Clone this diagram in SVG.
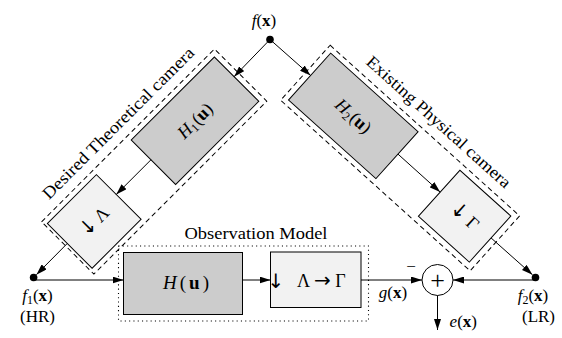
<svg xmlns="http://www.w3.org/2000/svg" width="562" height="338" viewBox="0 0 562 338">
<defs>
<style>
text{font-family:"Liberation Serif","DejaVu Serif",serif;font-size:17px;fill:#000}
.m{font-size:18px}
.it{font-style:italic}
.bf{font-weight:bold}
.sub{font-size:12px}
.ar{font-family:"DejaVu Sans",sans-serif;font-size:20px}
.plus{font-size:26px}
.hu{font-size:19px}
.dark{fill:#cccccc;stroke:#000;stroke-width:1}
.light{fill:#f2f2f2;stroke:#000;stroke-width:1}
.dash{fill:none;stroke:#000;stroke-width:1;stroke-dasharray:5 3.5}
.dot{fill:none;stroke:#000;stroke-width:1.1;stroke-dasharray:1.1 3.2}
.c{fill:none;stroke:#000;stroke-width:1;marker-end:url(#ah)}
</style>
<marker id="ah" markerWidth="11" markerHeight="7" refX="11" refY="3.5" orient="auto" markerUnits="userSpaceOnUse"><path d="M0,0 L11,3.5 L0,7 z" fill="#000"/></marker>
</defs>
<rect width="562" height="338" fill="#fff"/>

<g id="desired-camera" transform="translate(195,120.7) rotate(-45)">
<rect class="dash" x="-180" y="-37" width="244.5" height="74"/>
<text x="-56" y="-47" text-anchor="middle" textLength="207" lengthAdjust="spacingAndGlyphs">Desired Theoretical camera</text>
</g>
<g id="existing-camera" transform="translate(353.3,115.9) rotate(42)">
<rect class="dash" x="-64.5" y="-37" width="255" height="74"/>
<text x="67.5" y="-47" text-anchor="middle" textLength="188" lengthAdjust="spacingAndGlyphs">Existing Physical camera</text>
</g>
<g id="observation-model">
<rect class="dot" x="118.5" y="246" width="250" height="75"/>
<text x="256" y="239" text-anchor="middle" textLength="143" lengthAdjust="spacingAndGlyphs">Observation Model</text>
</g>

<g id="H1" transform="translate(195,120.7) rotate(-45)">
<rect class="dark" x="-58.8" y="-31.4" width="117.6" height="62.8"/>
<text class="m" x="0" y="6" text-anchor="middle"><tspan class="it">H</tspan><tspan class="sub" dy="3">1</tspan><tspan dx="1" dy="-3">(</tspan><tspan class="bf">u</tspan>)</text>
</g>
<g id="downLambda" transform="translate(94.24,221.46) rotate(-45)">
<rect class="light" x="-34.65" y="-31.6" width="69.3" height="63.2"/>
<text class="m" x="0" y="6" text-anchor="middle"><tspan class="ar">↓</tspan> Λ</text>
</g>
<g id="H2" transform="translate(353.3,115.9) rotate(42)">
<rect class="dark" x="-58.8" y="-31.5" width="117.6" height="63"/>
<text class="m" x="0" y="6" text-anchor="middle"><tspan class="it">H</tspan><tspan class="sub" dy="3">2</tspan><tspan dx="1" dy="-3">(</tspan><tspan class="bf">u</tspan>)</text>
</g>
<g id="downGamma" transform="translate(464.62,216.13) rotate(42)">
<rect class="light" x="-34.25" y="-31" width="68.5" height="62"/>
<text class="m" x="0" y="6" text-anchor="middle"><tspan class="ar">↓</tspan> Γ</text>
</g>
<g id="Hu">
<rect class="dark" x="123.5" y="252.5" width="119" height="62"/>
<text class="hu" x="186" y="288.5" text-anchor="middle" textLength="46" lengthAdjust="spacing"><tspan class="it">H</tspan>(<tspan class="bf">u</tspan>)</text>
</g>
<g id="resample">
<rect class="light" x="270.5" y="252" width="90.5" height="55.5"/>
<text class="ar" x="276" y="288" text-anchor="middle">↓</text>
<text class="m" x="321.3" y="286.7" text-anchor="middle">Λ <tspan class="ar">→</tspan> Γ</text>
</g>
<g id="sum">
<circle cx="437.5" cy="280" r="15.5" fill="#fff" stroke="#000" stroke-width="1"/>
<text class="plus" x="437.5" y="288.5" text-anchor="middle">+</text>
</g>
<g id="f-source">
<circle cx="270" cy="39.5" r="3.8" fill="#000"/>
<text x="264" y="26" text-anchor="middle"><tspan class="it">f</tspan>(<tspan class="bf">x</tspan>)</text>
</g>
<g id="f1">
<circle cx="33.6" cy="277.5" r="3.8" fill="#000"/>
<text x="37.5" y="301" text-anchor="middle"><tspan class="it">f</tspan><tspan class="sub" dy="2.5">1</tspan><tspan dy="-2.5">(</tspan><tspan class="bf">x</tspan>)</text>
<text x="37.5" y="322" text-anchor="middle">(HR)</text>
</g>
<g id="f2">
<circle cx="535.5" cy="277.5" r="3.8" fill="#000"/>
<text x="533" y="301" text-anchor="middle"><tspan class="it">f</tspan><tspan class="sub" dy="2.5">2</tspan><tspan dy="-2.5">(</tspan><tspan class="bf">x</tspan>)</text>
<text x="538.5" y="322" text-anchor="middle">(LR)</text>
</g>

<g id="connectors">
<line class="c" x1="270" y1="39.5" x2="234.1" y2="76.65"/>
<line class="c" x1="270" y1="39.5" x2="310.6" y2="75.45"/>
<line class="c" x1="150.95" y1="159.8" x2="116.23" y2="194.52"/>
<line class="c" x1="398" y1="154.13" x2="440.13" y2="192.07"/>
<line class="c" x1="67.23" y1="243.52" x2="36.4" y2="274.65"/>
<line class="c" x1="491.03" y1="237.9" x2="532.5" y2="274.8"/>
<line class="c" x1="33.6" y1="280" x2="123.5" y2="280"/>
<line class="c" x1="242.5" y1="280" x2="270.5" y2="280"/>
<line class="c" x1="361" y1="280" x2="422" y2="280"/>
<line class="c" x1="535.5" y1="280" x2="453" y2="280"/>
<line class="c" x1="437.5" y1="295.5" x2="437.5" y2="330"/>
<text x="393" y="298" text-anchor="middle"><tspan class="it">g</tspan>(<tspan class="bf">x</tspan>)</text>
<text x="411" y="272" text-anchor="middle">−</text>
<text x="463.3" y="327" text-anchor="middle"><tspan class="it">e</tspan>(<tspan class="bf">x</tspan>)</text>
</g>
</svg>
